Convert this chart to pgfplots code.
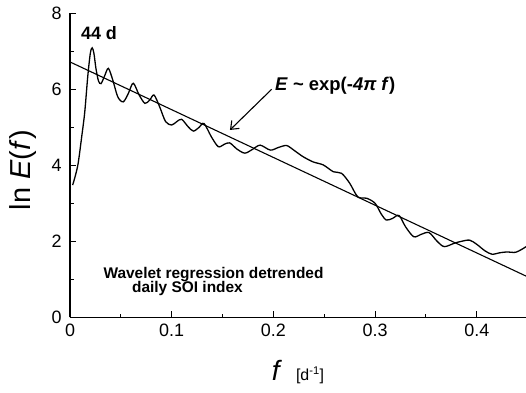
\documentclass[border=0pt]{standalone}
\usepackage{fontspec}
\setmainfont{Liberation Sans}
\usepackage{pgfplots}
\pgfplotsset{compat=1.18}
\usetikzlibrary{arrows.meta}
\newcommand\tl{\fontsize{18}{20}\selectfont}
\begin{document}
\begin{tikzpicture}[x=1bp,y=1bp]
\begin{axis}[
  name=ax,
  scale only axis,
  width=456bp, height=304bp,
  xmin=0, xmax=0.4484, ymin=0, ymax=8,
  axis lines*=left,
  axis line style={line width=1.3bp},
  tick align=inside,
  tick style={black, line width=1.1bp},
  major tick length=6bp,
  minor tick length=3.5bp,
  xtick={0,0.1,0.2,0.3,0.4},
  minor xtick={0.05,0.15,0.25,0.35,0.45},
  ytick={0,2,4,6,8},
  minor ytick={1,3,5,7},
  xticklabels={\tl 0,\tl 0.1,\tl 0.2,\tl 0.3,\tl 0.4},
  yticklabels={\tl 0,\tl 2,\tl 4,\tl 6,\tl 8},
  xticklabel style={yshift=-3bp},
  yticklabel style={xshift=-5bp},
  clip=false,
  every axis y label/.style={at={(axis description cs:-0.103,0.484)}, rotate=90, anchor=center},
  every axis x label/.style={at={(axis description cs:0.5,-0.2095)}, anchor=base},
  ylabel={\fontsize{29}{31}\selectfont ln \textit{E}(\textit{f})},
  xlabel={{\fontsize{28}{30}\selectfont\textit{f}}\hspace{14bp}{\fontsize{16}{18}\selectfont [d\textsuperscript{-1}]}},
]
\addplot[black, line width=1.3bp, smooth, tension=0.5] coordinates {
(0.0026,3.48) (0.005,3.70) (0.008,4.05) (0.0115,4.75) (0.0145,5.40)
(0.0175,6.35) (0.0200,6.95) (0.0218,7.09) (0.0235,6.95) (0.0255,6.55)
(0.0280,6.22) (0.0305,6.15) (0.0340,6.35) (0.0377,6.55) (0.0420,6.25)
(0.0470,5.80) (0.0524,5.67) (0.0575,5.90) (0.0622,6.16) (0.0680,5.85)
(0.0737,5.63) (0.0785,5.72) (0.0826,5.85) (0.0880,5.55) (0.0940,5.15)
(0.1000,5.06) (0.1050,5.15) (0.1098,5.21) (0.1160,5.02) (0.1213,4.90)
(0.1270,5.00) (0.1318,5.10) (0.1390,4.75) (0.1458,4.49) (0.1515,4.55)
(0.1570,4.59) (0.1645,4.42) (0.1720,4.32) (0.1795,4.42) (0.1870,4.53)
(0.1970,4.40) (0.2050,4.47) (0.2130,4.52) (0.2200,4.40) (0.2290,4.23)
(0.2390,4.09) (0.2490,4.01) (0.2590,3.83) (0.2670,3.79) (0.2750,3.53)
(0.2830,3.17) (0.2920,3.13) (0.3000,3.00) (0.3060,2.72) (0.3110,2.56)
(0.3170,2.60) (0.3235,2.68) (0.3300,2.38) (0.3380,2.12) (0.3450,2.18)
(0.3530,2.23) (0.3610,2.00) (0.3680,1.86) (0.3780,1.95) (0.3850,2.00)
(0.3930,2.03) (0.4000,1.92) (0.4080,1.75) (0.4150,1.66) (0.4230,1.70)
(0.4300,1.72) (0.4380,1.71) (0.4450,1.80) (0.4484,1.86)
};
\addplot[black, line width=1.1bp] coordinates {(0,6.72) (0.4484,1.085)};
\draw[black, line width=1.1bp, -{Straight Barb[length=7bp,width=11bp]}] (axis cs:0.1983,6.0) -- (axis cs:0.1573,4.93);
\node[anchor=base west, inner sep=0pt, font=\fontsize{18.5}{20}\selectfont\bfseries] at (axis cs:0.2016,5.98) {\textit{E} \textasciitilde{} exp(-\textit{4π f})};
\node[anchor=base, inner sep=0pt, font=\fontsize{18}{20}\selectfont\bfseries] at (axis cs:0.0285,7.30) {44 d};
\node[anchor=base, inner sep=0pt, font=\fontsize{15.5}{17}\selectfont\bfseries] at (axis cs:0.1411,1.03) {Wavelet regression detrended};
\node[anchor=base, inner sep=0pt, font=\fontsize{15.5}{17}\selectfont\bfseries] at (axis cs:0.1155,0.64) {daily SOI index};
\end{axis}
\pgfresetboundingbox
\path ([xshift=-70bp,yshift=-75.7bp]ax.south west) rectangle ([yshift=13.3bp]ax.north east);
\end{tikzpicture}
\end{document}
